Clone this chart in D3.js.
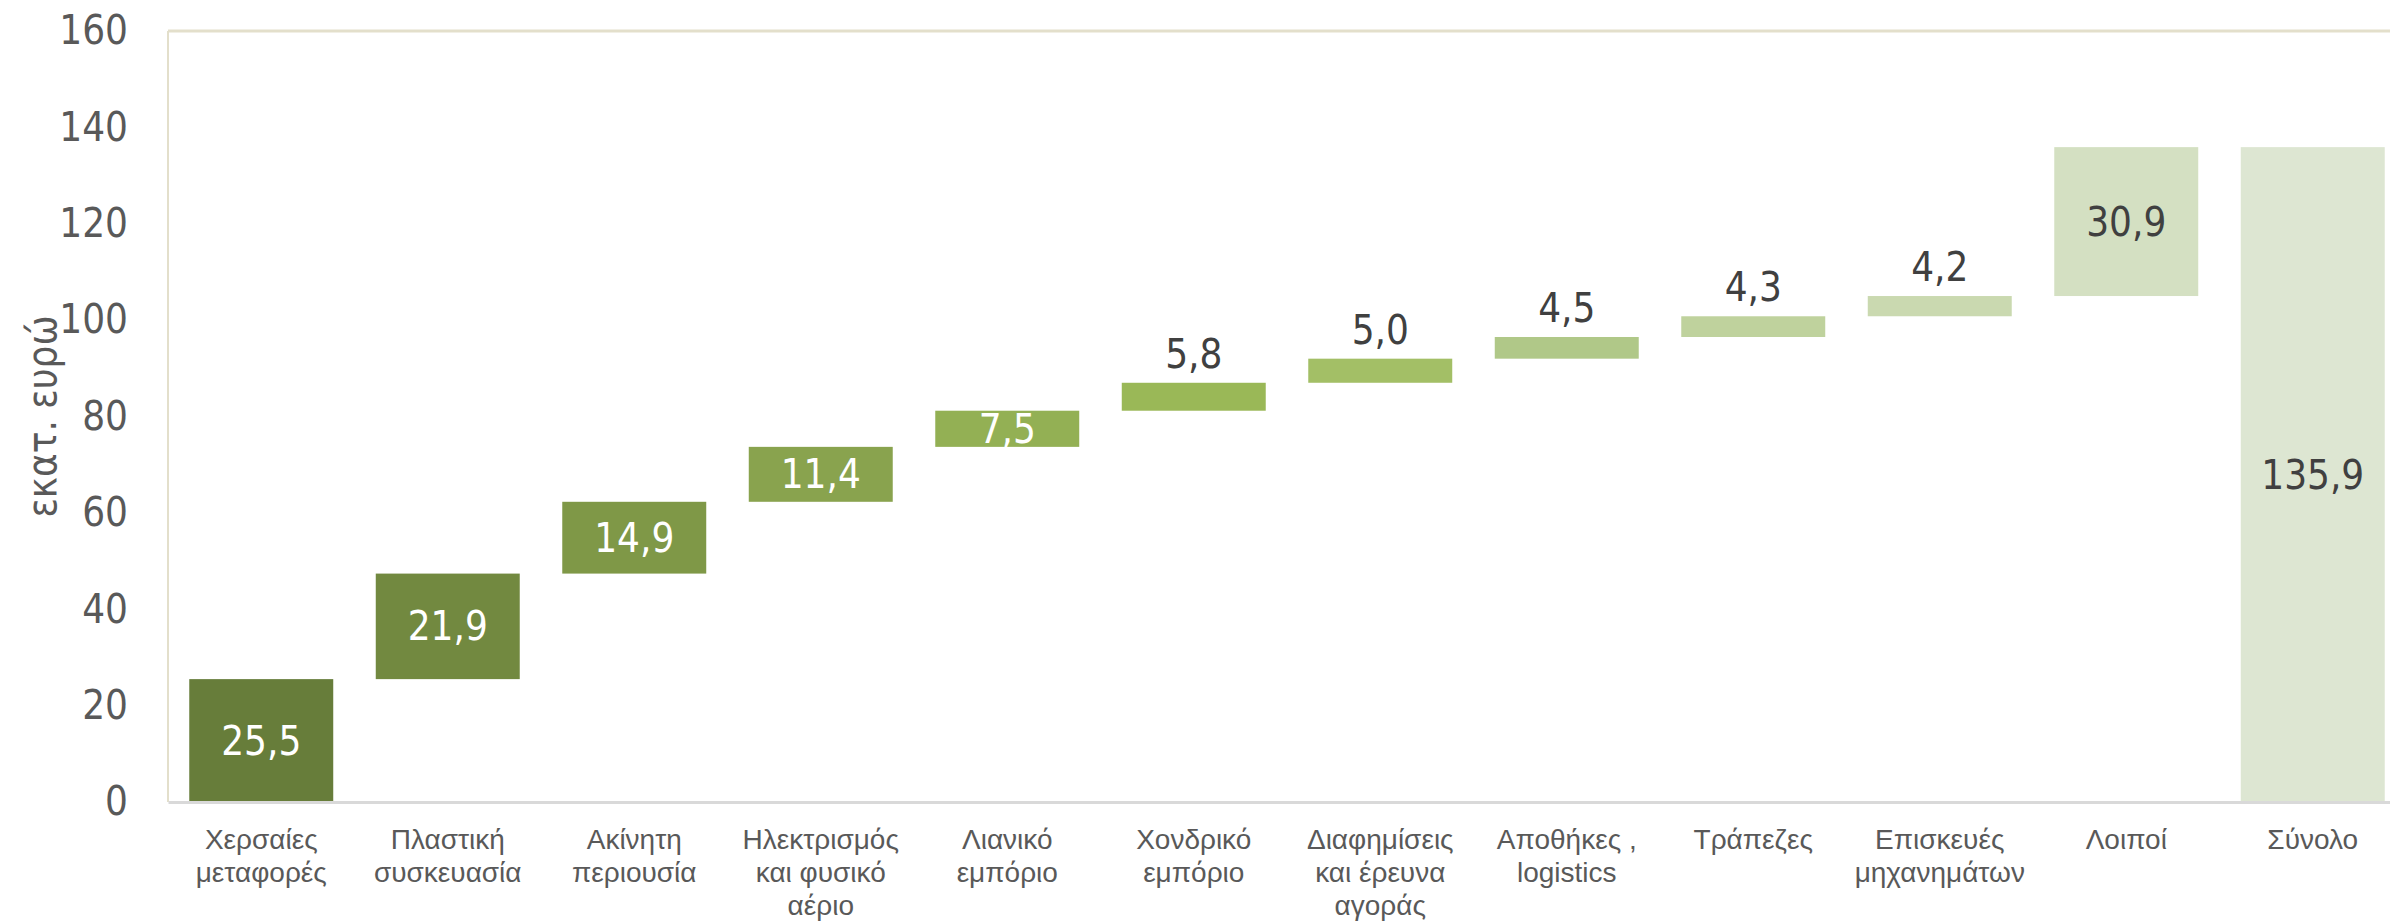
<!DOCTYPE html>
<html>
<head>
<meta charset="utf-8">
<script src="https://cdn.jsdelivr.net/npm/d3@7"></script>
<style>
  body { margin: 0; background: #fff; }
  svg { display: block; font-family: "DejaVu Sans Condensed", "DejaVu Sans", sans-serif; }
</style>
</head>
<body>
<svg id="chart" width="2390" height="923"></svg>
<script>
// categories (line breaks as in the original labels)
var categories = [
    ["Χερσαίες", "μεταφορές"],
    ["Πλαστική", "συσκευασία"],
    ["Ακίνητη", "περιουσία"],
    ["Ηλεκτρισμός", "και φυσικό", "αέριο"],
    ["Λιανικό", "εμπόριο"],
    ["Χονδρικό", "εμπόριο"],
    ["Διαφημίσεις", "και έρευνα", "αγοράς"],
    ["Αποθήκες ,", "logistics"],
    ["Τράπεζες"],
    ["Επισκευές", "μηχανημάτων"],
    ["Λοιποί"],
    ["Σύνολο"]
];
var values = [25.5, 21.9, 14.9, 11.4, 7.5, 5.8, 5.0, 4.5, 4.3, 4.2, 30.9, 135.9];
var isTotal = [false, false, false, false, false, false, false, false, false, false, false, true];
var yTicks = [0, 20, 40, 60, 80, 100, 120, 140, 160];
var yTitle = "εκατ. ευρώ";

var barColors = ['#677d3a', '#728940', '#7f9847', '#89a34e', '#93b054', '#9ab857',
    '#a3bf66', '#b0c888', '#bfd29d', '#cad9b0', '#d4e0c2', '#dde6d2'];

var svg = d3.select('#chart'),
    plot = { left: 168, top: 31, bottom: 802, right: 2406 };

var keys = categories.map((c, i) => 'c' + i);

var x = d3.scaleBand()
    .domain(keys)
    .range([plot.left, plot.right])
    .paddingInner(0.228)
    .paddingOuter(0.114);

var y = d3.scaleLinear()
    .domain([0, 160])
    .range([plot.bottom, plot.top]);

// running base for the waterfall
var run = 0;
var bars = values.map(function (v, i) {
    var start = isTotal[i] ? 0 : run;
    if (!isTotal[i]) run += v;
    return { key: keys[i], v: v, lo: start, hi: start + v, color: barColors[i] };
});

var fmt = d3.format('.1f');

// frame (top + left in beige, bottom axis grey)
svg.append('line')
    .attr('x1', plot.left).attr('x2', plot.right)
    .attr('y1', plot.top).attr('y2', plot.top)
    .attr('stroke', '#e3dfcb').attr('stroke-width', 3);
svg.append('line')
    .attr('x1', plot.left).attr('x2', plot.left)
    .attr('y1', plot.top).attr('y2', plot.bottom)
    .attr('stroke', '#e3dfcb').attr('stroke-width', 2);

// bars
svg.append('g').selectAll('rect')
    .data(bars)
    .join('rect')
    .attr('x', d => x(d.key))
    .attr('width', x.bandwidth())
    .attr('y', d => y(d.hi))
    .attr('height', d => y(d.lo) - y(d.hi))
    .attr('fill', d => d.color);

// y axis
var yAxis = svg.append('g')
    .attr('transform', 'translate(' + plot.left + ',0)')
    .call(d3.axisLeft(y).tickValues(yTicks).tickSize(0).tickPadding(40).tickFormat(d3.format('d')));
yAxis.select('.domain').remove();
yAxis.selectAll('text')
    .attr('font-size', 40)
    .attr('fill', '#595959')
    .attr('font-family', '"DejaVu Sans Condensed", sans-serif');

// x axis
var xAxis = svg.append('g')
    .attr('transform', 'translate(0,' + plot.bottom + ')')
    .call(d3.axisBottom(x).tickSize(0).tickFormat(''));
xAxis.select('.domain')
    .attr('stroke', '#d9d9d9').attr('stroke-width', 3);

xAxis.selectAll('.tick').each(function (k, i) {
    var t = d3.select(this).append('text')
        .attr('text-anchor', 'middle')
        .attr('font-size', 28)
        .attr('fill', '#595959')
        .attr('y', 47);
    categories[i].forEach(function (line, j) {
        t.append('tspan').attr('x', 0).attr('dy', j === 0 ? 0 : 33).text(line);
    });
});

// y title
svg.append('text')
    .attr('transform', 'translate(56,' + ((plot.top + plot.bottom) / 2) + ') rotate(-90)')
    .attr('text-anchor', 'middle')
    .attr('font-size', 40)
    .attr('fill', '#595959')
    .text(yTitle);

// data labels
svg.append('g').selectAll('text')
    .data(bars)
    .join('text')
    .attr('text-anchor', 'middle')
    .attr('font-size', 40)
    .attr('x', d => x(d.key) + x.bandwidth() / 2)
    .attr('y', function (d) {
        var h = y(d.lo) - y(d.hi);
        return h >= 30 ? (y(d.lo) + y(d.hi)) / 2 + 14 : y(d.hi) - 15;
    })
    .attr('fill', function (d) {
        var h = y(d.lo) - y(d.hi);
        if (h < 30) return '#404040';
        return d3.hsl(d.color).l > 0.7 ? '#404040' : '#ffffff';
    })
    .text(d => fmt(d.v).replace('.', ','));
</script>
</body>
</html>
